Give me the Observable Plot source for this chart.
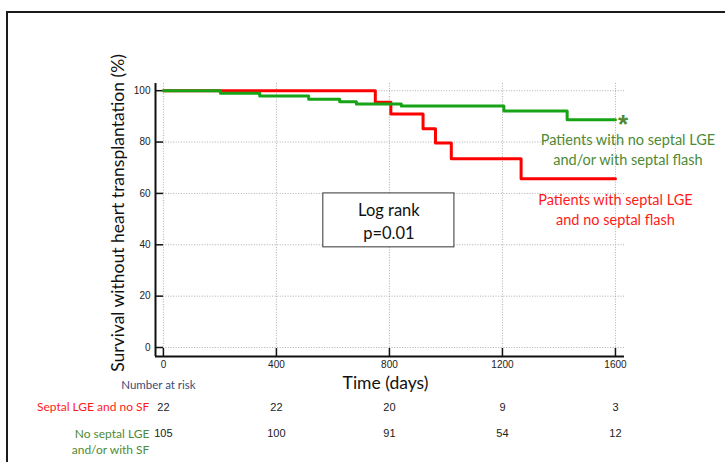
<!DOCTYPE html>
<html><head><meta charset="utf-8">
<script src="https://cdn.jsdelivr.net/npm/d3@7"></script>
<script src="https://cdn.jsdelivr.net/npm/@observablehq/plot@0.6"></script>
<style>
html,body{margin:0;padding:0;background:#fff;}
#wrap{position:relative;width:725px;height:462px;overflow:hidden;}
#border{position:absolute;left:6px;top:11px;width:730px;height:470px;border-top:2px solid #1a1a1a;border-left:2px solid #1a1a1a;}
#chart{position:absolute;left:0;top:0;}
</style></head>
<body><div id="wrap"><div id="border"></div><div id="chart"></div></div>
<script>
// Kaplan–Meier curves (days, % survival)
const redTimes = [0, 750, 805, 919, 963, 1019, 1266, 1600];
const redSurv  = [100, 95.5, 90.9, 85.2, 79.6, 73.5, 65.7, 65.7];
const greenTimes = [0, 202, 341, 514, 624, 683, 842, 1205, 1429, 1600];
const greenSurv  = [100, 99.0, 97.9, 96.7, 95.7, 94.8, 94.0, 92.1, 88.7, 88.7];

// axes
const xTicks = [0, 400, 800, 1200, 1600];
const yTicks = [0, 20, 40, 60, 80, 100];
const xDomain = [-28, 1632];
const yDomain = [-3.5, 102.8];

// number at risk
const riskRed   = [22, 22, 20, 9, 3];
const riskGreen = [105, 100, 91, 54, 12];

// labels
const redName = "Patients with septal LGE\nand no septal flash";
const greenName = "Patients with no septal LGE\nand/or with septal flash";
const redRowLabel = "Septal LGE and no SF";
const greenRowLabel = "No septal LGE\nand/or with SF";
const logRank = "Log rank\np=0.01";
const logBox = {x1: 566, x2: 1030, y1: 39, y2: 60};

const RED = "#ff0000", GREEN = "#17a317", GREENTXT = "#4e8a35", REDTXT = "#ff1a1a";
const redData = redTimes.map((t, i) => ({t, s: redSurv[i]}));
const greenData = greenTimes.map((t, i) => ({t, s: greenSurv[i]}));
const redEnd = redData[redData.length - 1], greenEnd = greenData[greenData.length - 1];
const riskRows = xTicks.map((t, i) => ({t, r: riskRed[i], g: riskGreen[i]}));
const F = "Lato, 'Open Sans', sans-serif";
const A = "Arial, 'Liberation Sans', sans-serif";
const fmt = d3.format("d");

const chart = Plot.plot({
  width: 725, height: 462,
  marginLeft: 155, marginRight: 101, marginTop: 83, marginBottom: 106,
  x: {domain: xDomain},
  y: {domain: yDomain},
  style: {fontFamily: A, background: "transparent", overflow: "visible"},
  marks: [
    Plot.gridX(xTicks, {stroke: "#999", strokeOpacity: 1, strokeDasharray: "1,1.6", strokeWidth: 0.8}),
    Plot.gridY(yTicks, {stroke: "#999", strokeOpacity: 1, strokeDasharray: "1,1.6", strokeWidth: 0.8}),
    Plot.axisY({ticks: yTicks, tickSize: 0, tickPadding: 5, fontSize: 10, label: null, fill: "#222", tickFormat: fmt}),
    Plot.axisX({ticks: xTicks, tickSize: 0, tickPadding: 4, fontSize: 10, label: null, fill: "#222", tickFormat: fmt}),
    Plot.axisY({ticks: yTicks, tickSize: 8, dx: 8, tickFormat: () => "", label: null, stroke: "#111", strokeWidth: 1.5}),
    Plot.axisX({ticks: xTicks, tickSize: 8, dy: -8, tickFormat: () => "", label: null, stroke: "#111", strokeWidth: 1.5}),
    Plot.ruleX([xDomain[0]], {stroke: "#111", strokeWidth: 2}),
    Plot.ruleY([yDomain[0]], {stroke: "#111", strokeWidth: 2}),
    Plot.rect([logBox], {x1: "x1", x2: "x2", y1: "y1", y2: "y2", fill: "white", stroke: "#333", strokeWidth: 1}),
    Plot.text([logRank], {x: (logBox.x1 + logBox.x2) / 2, y: (logBox.y1 + logBox.y2) / 2, text: d => d, fontFamily: F, fontSize: 16.5, lineHeight: 1.4, fill: "#111"}),
    Plot.line(redData, {x: "t", y: "s", curve: "step-after", stroke: RED, strokeWidth: 3}),
    Plot.line(greenData, {x: "t", y: "s", curve: "step-after", stroke: GREEN, strokeWidth: 3}),
    Plot.text([greenEnd], {x: "t", y: "s", text: () => "*", dx: 7.5, dy: 5, fontSize: 26, fontWeight: "bold", fill: GREENTXT, fontFamily: A}),
    Plot.text([greenEnd], {x: "t", y: "s", text: () => greenName, dx: 12.5, dy: 29, fontFamily: F, fontSize: 14.5, lineHeight: 1.35, fill: GREENTXT}),
    Plot.text([redEnd], {x: "t", y: "s", text: () => redName, dx: 0, dy: 30, fontFamily: F, fontSize: 14.5, lineHeight: 1.35, fill: REDTXT}),
    // axis titles
    Plot.text(["Survival without heart transplantation (%)"], {frameAnchor: "left", text: d => d, textAnchor: "middle", rotate: -90, dx: -37, dy: -7, fontFamily: F, fontSize: 17.5, fill: "#111"}),
    Plot.text(["Time (days)"], {frameAnchor: "bottom", text: d => d, lineAnchor: "middle", dx: -4.5, dy: 27, fontFamily: F, fontSize: 17.5, fill: "#111"}),
    // number at risk
    Plot.text(["Number at risk"], {x: 0, frameAnchor: "bottom", lineAnchor: "middle", text: d => d, dx: -5, dy: 29, fontFamily: F, fontSize: 11.5, fill: "#3c4a78"}),
    Plot.text([redRowLabel], {x: 0, frameAnchor: "bottom", lineAnchor: "middle", text: d => d, dx: -14, dy: 51, textAnchor: "end", fontFamily: F, fontSize: 12, fill: REDTXT}),
    Plot.text([greenRowLabel], {x: 0, frameAnchor: "bottom", lineAnchor: "middle", text: d => d, dx: -14, dy: 84, textAnchor: "end", fontFamily: F, fontSize: 12, lineHeight: 1.35, fill: GREENTXT}),
    Plot.text(riskRows, {x: "t", frameAnchor: "bottom", lineAnchor: "middle", text: "r", dy: 51, fontSize: 11, fill: "#222"}),
    Plot.text(riskRows, {x: "t", frameAnchor: "bottom", lineAnchor: "middle", text: "g", dy: 77, fontSize: 11, fill: "#222"})
  ]
});
document.getElementById("chart").appendChild(chart);
</script></body></html>
